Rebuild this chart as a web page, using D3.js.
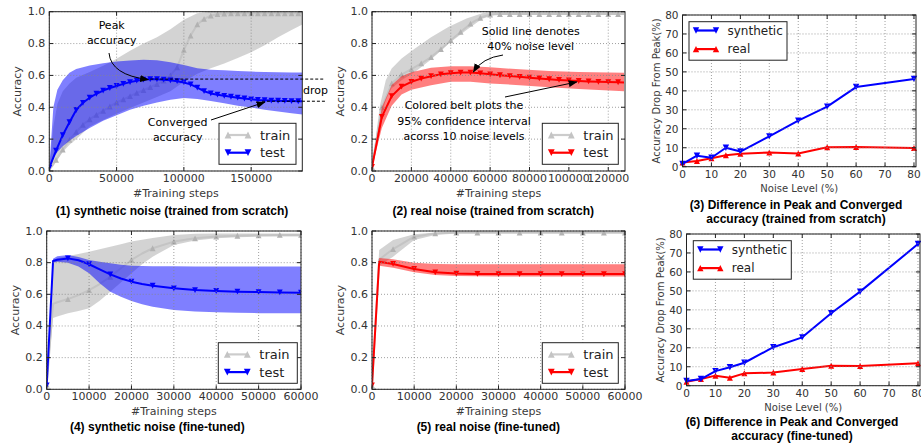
<!DOCTYPE html>
<html>
<head>
<meta charset="utf-8">
<script src="https://cdn.jsdelivr.net/npm/d3@7/dist/d3.min.js"></script>
<style>
  body { margin: 0; background: #fff; }
  svg text { font-family: "DejaVu Sans", sans-serif; }
  svg text.title { font-family: "Liberation Sans", Arial, sans-serif; font-weight: bold; font-size: 12px; fill: #000; }
</style>
</head>
<body>
<svg width="921" height="444"></svg>
<script>
/* values */
var accTicks = [0, 0.2, 0.4, 0.6, 0.8, 1.0];

// (1) synthetic noise, trained from scratch
var p1Ticks = [0, 50000, 100000, 150000];
var p1Steps = [0, 5000, 10000, 15000, 20000, 25000, 30000, 35000, 40000, 45000, 50000, 55000, 60000, 65000, 70000, 75000, 80000, 85000, 90000, 95000, 100000, 105000, 110000, 115000, 120000, 125000, 130000, 135000, 140000, 145000, 150000, 155000, 160000, 165000, 170000, 175000, 180000, 185000, 188000];
var p1TestMean = [0.02, 0.128, 0.225, 0.306, 0.383, 0.428, 0.46, 0.485, 0.505, 0.521, 0.534, 0.547, 0.558, 0.567, 0.574, 0.577, 0.576, 0.573, 0.569, 0.564, 0.556, 0.544, 0.523, 0.501, 0.487, 0.479, 0.472, 0.466, 0.46, 0.455, 0.45, 0.446, 0.444, 0.442, 0.441, 0.44, 0.439, 0.438, 0.438];
var p1TrainMean = [0.01, 0.07, 0.135, 0.195, 0.245, 0.29, 0.325, 0.352, 0.378, 0.405, 0.43, 0.45, 0.47, 0.49, 0.508, 0.526, 0.545, 0.567, 0.6, 0.65, 0.76, 0.85, 0.92, 0.955, 0.975, 0.985, 0.988, 0.99, 0.99, 0.99, 0.99, 0.99, 0.99, 0.99, 0.99, 0.99, 0.99, 0.99, 0.99];
var p1BandSteps = [0, 3000, 6000, 10000, 15000, 20000, 30000, 40000, 50000, 60000, 70000, 80000, 90000, 100000, 110000, 120000, 130000, 140000, 150000, 160000, 170000, 180000, 188000];
var p1TestHi = [0.02, 0.40, 0.51, 0.57, 0.617, 0.64, 0.662, 0.676, 0.687, 0.693, 0.698, 0.695, 0.683, 0.665, 0.645, 0.636, 0.632, 0.627, 0.624, 0.622, 0.62, 0.619, 0.618];
var p1TestLo = [0.01, 0.08, 0.12, 0.155, 0.19, 0.22, 0.27, 0.315, 0.35, 0.385, 0.41, 0.43, 0.448, 0.458, 0.452, 0.44, 0.425, 0.41, 0.398, 0.385, 0.373, 0.362, 0.355];
var p1TrainHi = [0.02, 0.28, 0.42, 0.5, 0.55, 0.585, 0.622, 0.66, 0.705, 0.755, 0.8, 0.84, 0.89, 0.95, 0.99, 1, 1, 1, 1, 1, 1, 1, 1];
var p1TrainLo = [0, 0.03, 0.07, 0.12, 0.165, 0.2, 0.28, 0.32, 0.36, 0.395, 0.43, 0.465, 0.5, 0.56, 0.61, 0.645, 0.675, 0.71, 0.745, 0.79, 0.84, 0.885, 0.92];

// (2) real noise, trained from scratch
var p2Ticks = [0, 20000, 40000, 60000, 80000, 100000, 120000];
var p2Steps = [0, 5000, 10000, 15000, 20000, 25000, 30000, 35000, 40000, 45000, 50000, 55000, 60000, 65000, 70000, 75000, 80000, 85000, 90000, 95000, 100000, 105000, 110000, 115000, 120000, 125000, 128000];
var p2TestMean = [0.025, 0.34, 0.47, 0.53, 0.56, 0.58, 0.595, 0.607, 0.614, 0.618, 0.618, 0.613, 0.607, 0.601, 0.596, 0.591, 0.586, 0.581, 0.576, 0.572, 0.568, 0.565, 0.562, 0.56, 0.558, 0.557, 0.556];
var p2TrainMean = [0.025, 0.40, 0.55, 0.605, 0.64, 0.675, 0.715, 0.765, 0.82, 0.873, 0.925, 0.962, 0.982, 0.985, 0.985, 0.985, 0.985, 0.985, 0.985, 0.985, 0.985, 0.985, 0.985, 0.985, 0.985, 0.985, 0.985];
var p2BandSteps = [0, 5000, 10000, 15000, 20000, 30000, 40000, 50000, 60000, 75000, 90000, 105000, 128000];
var p2TestHi = [0.03, 0.40, 0.54, 0.595, 0.62, 0.648, 0.658, 0.658, 0.652, 0.638, 0.627, 0.622, 0.616];
var p2TestLo = [0.02, 0.27, 0.41, 0.48, 0.51, 0.539, 0.56, 0.56, 0.55, 0.539, 0.525, 0.514, 0.501];
var p2TrainBandSteps = [0, 4000, 7000, 10000, 15000, 22000, 30000, 39000, 48000, 56000, 62000, 70000, 128000];
var p2TrainHi = [0.03, 0.41, 0.57, 0.644, 0.707, 0.77, 0.84, 0.906, 0.958, 0.99, 1, 1, 1];
var p2TrainLo = [0.02, 0.30, 0.45, 0.52, 0.57, 0.623, 0.70, 0.80, 0.885, 0.955, 0.98, 0.985, 0.985];

// (4) synthetic noise, fine-tuned
var p4Ticks = [0, 10000, 20000, 30000, 40000, 50000, 60000];
var p4Steps = [0, 1500, 2500, 5000, 7500, 10000, 12500, 15000, 17500, 20000, 22500, 25000, 30000, 35000, 40000, 45000, 50000, 55000, 60000];
var p4TestMean = [0.025, 0.81, 0.818, 0.827, 0.815, 0.79, 0.758, 0.726, 0.7, 0.68, 0.665, 0.654, 0.638, 0.627, 0.621, 0.617, 0.614, 0.612, 0.61];
var p4TestHi = [0.03, 0.825, 0.84, 0.848, 0.835, 0.817, 0.805, 0.796, 0.787, 0.781, 0.779, 0.778, 0.777, 0.776, 0.776, 0.775, 0.775, 0.775, 0.775];
var p4TestLo = [0.02, 0.80, 0.805, 0.80, 0.775, 0.733, 0.67, 0.617, 0.585, 0.558, 0.538, 0.522, 0.501, 0.492, 0.486, 0.483, 0.481, 0.48, 0.48];
var p4TrainMean = [0.03, 0.54, 0.55, 0.57, 0.595, 0.627, 0.665, 0.711, 0.765, 0.817, 0.858, 0.891, 0.933, 0.954, 0.965, 0.97, 0.973, 0.975, 0.975];
var p4TrainHi = [0.04, 0.815, 0.83, 0.842, 0.855, 0.869, 0.885, 0.901, 0.917, 0.933, 0.945, 0.955, 0.975, 0.982, 0.985, 0.985, 0.985, 0.985, 0.985];
var p4TrainLo = [0.02, 0.45, 0.46, 0.48, 0.495, 0.512, 0.56, 0.617, 0.675, 0.733, 0.79, 0.838, 0.912, 0.94, 0.954, 0.96, 0.965, 0.965, 0.965];

// (5) real noise, fine-tuned
var p5Ticks = [0, 10000, 20000, 30000, 40000, 50000, 60000];
var p5Steps = [0, 1700, 5000, 10000, 15000, 20000, 25000, 30000, 35000, 40000, 45000, 50000, 55000, 60000];
var p5TestMean = [0.025, 0.806, 0.792, 0.76, 0.739, 0.731, 0.729, 0.728, 0.728, 0.728, 0.728, 0.728, 0.728, 0.728];
var p5TestHi = [0.03, 0.83, 0.822, 0.80, 0.792, 0.79, 0.79, 0.79, 0.79, 0.79, 0.79, 0.79, 0.79, 0.79];
var p5TestLo = [0.02, 0.78, 0.768, 0.739, 0.722, 0.716, 0.714, 0.713, 0.713, 0.713, 0.713, 0.713, 0.713, 0.713];
var p5TrainMean = [0.025, 0.82, 0.886, 0.964, 0.985, 0.99, 0.99, 0.99, 0.99, 0.99, 0.99, 0.99, 0.99, 0.99];
var p5TrainHi = [0.03, 0.88, 0.943, 0.98, 0.99, 0.995, 0.995, 0.995, 0.995, 0.995, 0.995, 0.995, 0.995, 0.995];
var p5TrainLo = [0.02, 0.78, 0.838, 0.943, 0.975, 0.985, 0.985, 0.985, 0.985, 0.985, 0.985, 0.985, 0.985, 0.985];

// (3) and (6) drop from peak, %
var noiseLevels = [0, 5, 10, 15, 20, 30, 40, 50, 60, 80];
var dropTicks = [0, 10, 20, 30, 40, 50, 60, 70, 80];
var p3Synthetic = [1.5, 5.8, 4.7, 10, 8, 16, 24.3, 31.7, 42, 46.3];
var p3Real = [2.2, 3, 4.5, 6, 6.8, 7.5, 7, 10.3, 10.4, 9.8];
var p6Synthetic = [2.5, 3.5, 7.7, 9.7, 12.1, 20.3, 25.5, 38.2, 49.6, 74.7];
var p6Real = [2.1, 3.5, 5.3, 4.2, 6.5, 6.9, 8.8, 10.5, 10.4, 11.8];

var svg = d3.select("svg");
var defs = svg.append("defs");
defs.append("marker").attr("id", "head")
    .attr("viewBox", "0 0 10 10").attr("refX", 9).attr("refY", 5)
    .attr("markerWidth", 9).attr("markerHeight", 7)
    .attr("markerUnits", "userSpaceOnUse").attr("orient", "auto")
    .attr("preserveAspectRatio", "none")
    .append("path").attr("d", "M0,0L10,5L0,10Z").attr("fill", "#000");

function tri(r, down) {
    return down
        ? "M" + (-r) + "," + (-r) + "L" + r + "," + (-r) + "L0," + r + "Z"
        : "M" + (-r) + "," + r + "L" + r + "," + r + "L0," + (-r) + "Z";
}

function axesFrame(g, x, y, xTicks, yTicks, xFmt, yFmt, fs) {
    var L = x.range()[0], R = x.range()[1], B = y.range()[0], T = y.range()[1];
    var grid = g.append("g").attr("stroke", "#888").attr("stroke-width", 0.8).attr("stroke-dasharray", "1,2");
    xTicks.forEach(function (t) {
        grid.append("line").attr("x1", x(t)).attr("x2", x(t)).attr("y1", T).attr("y2", B);
    });
    yTicks.forEach(function (t) {
        grid.append("line").attr("x1", L).attr("x2", R).attr("y1", y(t)).attr("y2", y(t));
    });
    var tk = g.append("g").attr("stroke", "#222").attr("stroke-width", 1);
    xTicks.forEach(function (t) {
        tk.append("line").attr("x1", x(t)).attr("x2", x(t)).attr("y1", B).attr("y2", B - 4);
        tk.append("line").attr("x1", x(t)).attr("x2", x(t)).attr("y1", T).attr("y2", T + 4);
    });
    yTicks.forEach(function (t) {
        tk.append("line").attr("x1", L).attr("x2", L + 4).attr("y1", y(t)).attr("y2", y(t));
        tk.append("line").attr("x1", R).attr("x2", R - 4).attr("y1", y(t)).attr("y2", y(t));
    });
    g.append("rect").attr("x", L).attr("y", T).attr("width", R - L).attr("height", B - T)
        .attr("fill", "none").attr("stroke", "#222").attr("stroke-width", 1);

    g.append("g").selectAll("text").data(xTicks).join("text")
        .attr("x", function (d) { return x(d); }).attr("y", B + 7.5)
        .attr("text-anchor", "middle").attr("dominant-baseline", "central")
        .attr("font-size", fs).attr("fill", "#333").text(xFmt);
    g.append("g").selectAll("text").data(yTicks).join("text")
        .attr("x", L - 4).attr("y", function (d) { return y(d); })
        .attr("text-anchor", "end").attr("dominant-baseline", "central")
        .attr("font-size", fs).attr("fill", "#333").text(yFmt);
}

function band(g, xs, lo, hi, x, y, color, op) {
    var area = d3.area()
        .x(function (d, i) { return x(xs[i]); })
        .y0(function (d, i) { return y(lo[i]); })
        .y1(function (d, i) { return y(hi[i]); });
    g.append("path").datum(xs).attr("d", area).attr("fill", color).attr("fill-opacity", op);
}

function series(g, xs, ys, x, y, color, lw, markColor, down, r, markIf) {
    var pts = xs.map(function (s, i) { return [s, ys[i]]; });
    var line = d3.line().x(function (d) { return x(d[0]); }).y(function (d) { return y(d[1]); });
    g.append("path").datum(pts).attr("d", line).attr("fill", "none")
        .attr("stroke", color).attr("stroke-width", lw).attr("stroke-linejoin", "round");
    g.append("g").selectAll("path").data(pts.filter(markIf)).join("path")
        .attr("d", tri(r, down))
        .attr("transform", function (d) { return "translate(" + x(d[0]) + "," + y(d[1]) + ")"; })
        .attr("fill", markColor);
}

function legend(g, bx, by, bw, bh, hx, hw, tx, rows, items, fs, r) {
    g.append("rect").attr("x", bx).attr("y", by).attr("width", bw).attr("height", bh)
        .attr("fill", "#fff").attr("stroke", "#222").attr("stroke-width", 1);
    items.forEach(function (it, i) {
        var cy = by + rows[i];
        g.append("line").attr("x1", bx + hx).attr("x2", bx + hx + hw).attr("y1", cy).attr("y2", cy)
            .attr("stroke", it.line).attr("stroke-width", 2.2);
        [bx + hx, bx + hx + hw].forEach(function (mx) {
            g.append("path").attr("d", tri(r, it.down))
                .attr("transform", "translate(" + mx + "," + cy + ")").attr("fill", it.mark);
        });
        g.append("text").attr("x", bx + tx).attr("y", cy).attr("dominant-baseline", "central")
            .attr("font-size", fs).attr("fill", "#222").text(it.label);
    });
}

function text(g, x, y, s, fs, anchor, cls) {
    return g.append("text").attr("x", x).attr("y", y).attr("text-anchor", anchor || "middle")
        .attr("dominant-baseline", "central").attr("font-size", fs).attr("class", cls || null)
        .attr("fill", "#000").text(s);
}

function axisLabels(g, xl, yl, xLab, yLab, fs) {
    text(g, xl[0], xl[1], xLab, fs).attr("fill", "#3a3a3a");
    text(g, 0, 0, yLab, fs).attr("fill", "#3a3a3a")
        .attr("transform", "translate(" + yl[0] + "," + yl[1] + ") rotate(-90)");
}

var every5k = function (d) { return d[0] % 5000 === 0; };
var clipN = 0;

function curvePanel(p) {
    var g = svg.append("g");
    var x = d3.scaleLinear().domain([0, p.xMax]).range([p.left, p.right]);
    var y = d3.scaleLinear().domain([0, 1]).range([p.bottom, p.top]);
    var id = "clip" + (clipN++);
    defs.append("clipPath").attr("id", id).append("rect")
        .attr("x", p.left).attr("y", p.top).attr("width", p.right - p.left).attr("height", p.bottom - p.top);
    var body = g.append("g").attr("clip-path", "url(#" + id + ")");
    band(body, p.trainBandSteps, p.trainLo, p.trainHi, x, y, "#808080", 0.35);
    series(body, p.steps, p.trainMean, x, y, "#c4c4c4", 2, "#b2b2b2", false, 2.9, every5k);
    band(body, p.testBandSteps, p.testLo, p.testHi, x, y, p.color, 0.5);
    series(body, p.steps, p.testMean, x, y, p.color, 2, p.color, true, 2.9, every5k);
    axesFrame(g, x, y, p.xTicks, accTicks, d3.format("d"), d3.format(".1f"), 11);
    axisLabels(g, [(p.left + p.right) / 2, p.bottom + 22.5], [p.left - 31.5, (p.top + p.bottom) / 2],
        "#Training steps", "Accuracy", 11);
    legend(g, p.legend[0], p.legend[1], p.legend[2], p.legend[3], 9, 20, 41, [11.7, 29.4], [
        { label: "train", line: "#cccccc", mark: "#c4c4c4", down: false },
        { label: "test", line: p.color, mark: p.color, down: true }
    ], 13, 3.4);
    text(g, p.title[0], p.title[1], p.title[2], 12, "middle", "title");
    return { g: g, x: x, y: y };
}

function dropPanel(p) {
    var g = svg.append("g");
    var x = d3.scaleLinear().domain([0, 80.7]).range([p.left, p.right]);
    var y = d3.scaleLinear().domain([0, 80]).range([p.bottom, p.top]);
    var id = "clip" + (clipN++);
    defs.append("clipPath").attr("id", id).append("rect")
        .attr("x", p.left - 4).attr("y", p.top).attr("width", p.right - p.left + 8).attr("height", p.bottom - p.top);
    var body = g.append("g").attr("clip-path", "url(#" + id + ")");
    var all = function () { return true; };
    series(body, noiseLevels, p.real, x, y, "#ff0000", 2, "#ff0000", false, 3, all);
    series(body, noiseLevels, p.synthetic, x, y, "#0000ff", 2, "#0000ff", true, 3.2, all);
    axesFrame(g, x, y, dropTicks, dropTicks, d3.format("d"), d3.format("d"), 10.5);
    axisLabels(g, [(p.left + p.right) / 2, p.bottom + 22], [p.left - 26, (p.top + p.bottom) / 2],
        "Noise Level (%)", "Accuracy Drop From Peak(%)", 10);
    legend(g, p.legend[0], p.legend[1], 98, 38.5, 7, 20, 38.5, [8.8, 27.4], [
        { label: "synthetic", line: "#0000ff", mark: "#0000ff", down: true },
        { label: "real", line: "#ff0000", mark: "#ff0000", down: false }
    ], 12, 3.2);
    text(g, p.titleX, p.title[0], p.title[2], 12, "middle", "title");
    text(g, p.titleX, p.title[1], p.title[3], 12, "middle", "title");
}

/* panel (1) */
var a1 = curvePanel({
    left: 49.3, right: 302.3, top: 11.7, bottom: 171, xMax: 188000, xTicks: p1Ticks, color: "#0000ff",
    steps: p1Steps, testMean: p1TestMean, trainMean: p1TrainMean,
    testBandSteps: p1BandSteps, testLo: p1TestLo, testHi: p1TestHi,
    trainBandSteps: p1BandSteps, trainLo: p1TrainLo, trainHi: p1TrainHi,
    legend: [219, 123.3, 77, 41], title: [172, 210.7, "(1) synthetic noise (trained from scratch)"]
});
// peak / converged guides of panel 1
var peak = d3.max(p1TestMean), peakStep = p1Steps[p1TestMean.indexOf(peak)];
var conv = p1TestMean[p1TestMean.length - 1];
a1.g.append("line").attr("x1", a1.x(peakStep)).attr("x2", 325).attr("y1", a1.y(peak)).attr("y2", a1.y(peak))
    .attr("stroke", "#000").attr("stroke-dasharray", "3,2");
a1.g.append("line").attr("x1", a1.x(158000)).attr("x2", 325).attr("y1", a1.y(conv)).attr("y2", a1.y(conv))
    .attr("stroke", "#000").attr("stroke-dasharray", "3,2");
text(a1.g, 303, (a1.y(peak) + a1.y(conv)) / 2, "drop", 11, "start");
text(a1.g, 111.7, 25, "Peak", 11);
text(a1.g, 111.7, 40, "accuracy", 11);
a1.g.append("path").attr("d", "M109,53 Q111,75 " + (a1.x(peakStep) - 2) + "," + (a1.y(peak) + 0.5))
    .attr("fill", "none").attr("stroke", "#000").attr("marker-end", "url(#head)");
text(a1.g, 177.7, 122.3, "Converged", 11);
text(a1.g, 177.7, 137.7, "accuracy", 11);
a1.g.append("path").attr("d", "M211,120 L" + a1.x(160000) + "," + (a1.y(conv) + 1))
    .attr("fill", "none").attr("stroke", "#000").attr("marker-end", "url(#head)");

/* panel (2) */
var a2 = curvePanel({
    left: 372, right: 625, top: 11.7, bottom: 171, xMax: 128500, xTicks: p2Ticks, color: "#ff0000",
    steps: p2Steps, testMean: p2TestMean, trainMean: p2TrainMean,
    testBandSteps: p2BandSteps, testLo: p2TestLo, testHi: p2TestHi,
    trainBandSteps: p2TrainBandSteps, trainLo: p2TrainLo, trainHi: p2TrainHi,
    legend: [542.3, 123.3, 76, 41], title: [493.3, 210.7, "(2) real noise (trained from scratch)"]
});
text(a2.g, 530.7, 31.7, "Solid line denotes", 11);
text(a2.g, 530.7, 46.7, "40% noise level", 11);
a2.g.append("path").attr("d", "M503,55 Q482,58 " + (a2.x(51000) + 1) + "," + (a2.y(0.616) - 1))
    .attr("fill", "none").attr("stroke", "#000").attr("marker-end", "url(#head)");
text(a2.g, 464, 105, "Colored belt plots the", 11);
text(a2.g, 464, 121, "95% confidence interval", 11);
text(a2.g, 464, 136, "acorss 10 noise levels", 11);
a2.g.append("path").attr("d", "M505,97 L" + a2.x(104000) + "," + (a2.y(0.565) + 1))
    .attr("fill", "none").attr("stroke", "#000").attr("marker-end", "url(#head)");

/* panel (4) */
curvePanel({
    left: 46.7, right: 301, top: 231, bottom: 389.3, xMax: 60000, xTicks: p4Ticks, color: "#0000ff",
    steps: p4Steps, testMean: p4TestMean, trainMean: p4TrainMean,
    testBandSteps: p4Steps, testLo: p4TestLo, testHi: p4TestHi,
    trainBandSteps: p4Steps, trainLo: p4TrainLo, trainHi: p4TrainHi,
    legend: [218.3, 342.7, 79, 40.6], title: [157.3, 426.7, "(4) synthetic noise (fine-tuned)"]
});

/* panel (5) */
curvePanel({
    left: 372, right: 625, top: 231, bottom: 389.3, xMax: 60000, xTicks: p5Ticks, color: "#ff0000",
    steps: p5Steps, testMean: p5TestMean, trainMean: p5TrainMean,
    testBandSteps: p5Steps, testLo: p5TestLo, testHi: p5TestHi,
    trainBandSteps: p5Steps, trainLo: p5TrainLo, trainHi: p5TrainHi,
    legend: [542.3, 342.7, 76, 40.6], title: [488.3, 426.7, "(5) real noise (fine-tuned)"]
});

/* panels (3) and (6) */
dropPanel({
    left: 682.5, right: 916, top: 15, bottom: 166.7, synthetic: p3Synthetic, real: p3Real,
    legend: [689, 21.7], titleX: 796,
    title: [205, 219.3, "(3) Difference in Peak and Converged", "accuracy (trained from scratch)"]
});
dropPanel({
    left: 686.5, right: 920, top: 234, bottom: 385.7, synthetic: p6Synthetic, real: p6Real,
    legend: [693.3, 240.7], titleX: 792,
    title: [421.7, 436, "(6) Difference in Peak and Converged", "accuracy (fine-tuned)"]
});
</script>
</body>
</html>
